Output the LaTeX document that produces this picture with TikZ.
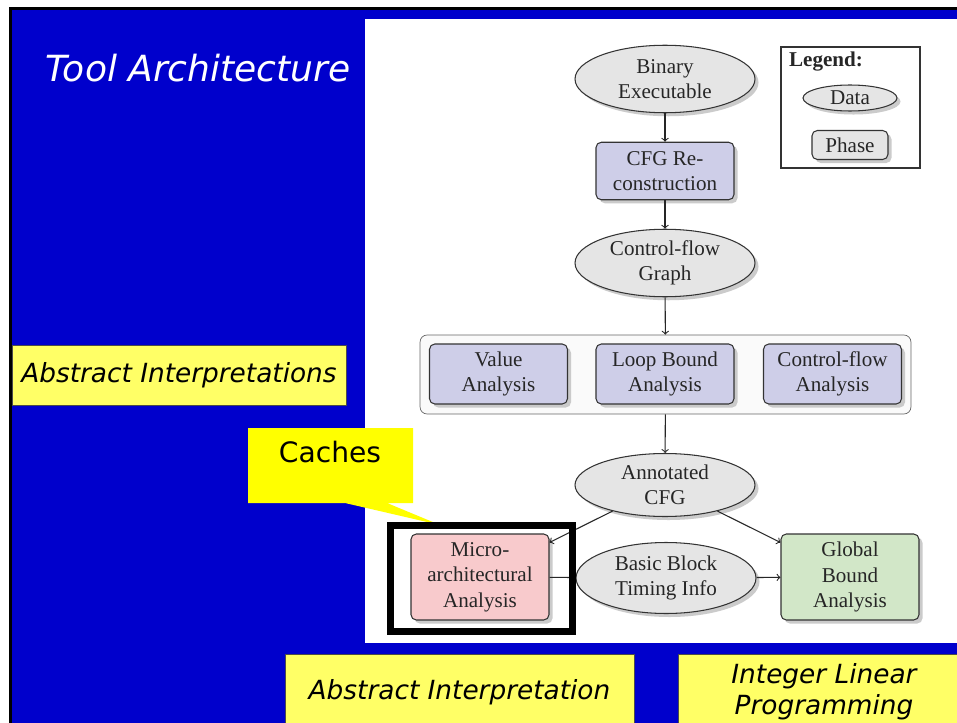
\documentclass[tikz,border=0pt]{standalone}
\usepackage{fontspec}
\setmainfont{Liberation Serif}
\newfontfamily\handfont{DejaVu Sans}
\usetikzlibrary{shapes,shadows}
\definecolor{slideblue}{HTML}{0000CC}
\definecolor{phasecol}{HTML}{CECEE8}
\definecolor{microcol}{HTML}{F8CACC}
\definecolor{globcol}{HTML}{D2E7C8}
\definecolor{noteyellow}{HTML}{FFFF66}
\definecolor{callyellow}{HTML}{FFFF00}

\begin{document}
\begin{tikzpicture}[x=0.02cm,y=-0.02cm,
    shade/.style={drop shadow={shadow xshift=2pt,shadow yshift=-2pt,fill=black!25,opacity=.8}},
    dataell/.style={ellipse,draw=black!80,semithick,fill=black!10,inner sep=0pt,minimum width=3.6cm,minimum height=1.35cm,
      align=center,text=black!85,font=\fontsize{12}{14.5}\selectfont,shade},
    phasebox/.style={rectangle,rounded corners=3pt,draw=black!80,semithick,fill=phasecol,inner sep=0pt,minimum width=2.76cm,
      minimum height=1.15cm,align=center,text=black!85,font=\fontsize{12}{14.5}\selectfont,shade},
    flow/.style={->,semithick,black!85},
    notebox/.style={draw=black!70,fill=noteyellow,inner sep=0pt,align=center,font=\handfont\itshape\fontsize{15}{17.6}\selectfont}]
    \useasboundingbox (0,0) rectangle (957,723);
    \clip (0,0) rectangle (957,723);
    % slide background
    \fill[white] (0,0) rectangle (957,723);
    \fill[black] (9,7) rectangle (957,723);
    \fill[slideblue] (12,10) rectangle (957,723);
    \fill[white] (365,19) rectangle (957,643);
    \node[text=white,font=\handfont\itshape\fontsize{20.5}{22}\selectfont] (title) at (198,68) {Tool Architecture};
    % flow
    \node[dataell] (bin) at (665,79) {Binary\\Executable};
    \node[phasebox] (cfgr) at (665,171) {CFG Re-\\construction};
    \node[dataell] (cfg) at (665,263) {Control-flow\\Graph};
    \node[draw=black!60,fill=black!2,rounded corners=4pt,minimum width=9.82cm,minimum height=1.58cm] (grp) at (665.5,374.5) {};
    \node[phasebox,minimum height=1.2cm] (val) at (498.5,374) {Value\\Analysis};
    \node[phasebox,minimum height=1.2cm] (loop) at (665,374) {Loop Bound\\Analysis};
    \node[phasebox,minimum height=1.2cm] (cfa) at (832.5,374) {Control-flow\\Analysis};
    \node[dataell,minimum height=1.26cm] (acfg) at (665,485) {Annotated\\CFG};
    \node[phasebox,fill=microcol,minimum height=1.72cm] (micro) at (480,577) {Micro-\\architectural\\Analysis};
    \node[dataell,minimum height=1.42cm] (bbt) at (666,578) {Basic Block\\Timing Info};
    \node[phasebox,fill=globcol,minimum height=1.72cm] (glob) at (850,577) {Global\\Bound\\Analysis};
    \draw[flow] (bin)--(cfgr);
    \draw[flow] (cfgr)--(cfg);
    \draw[flow] (cfg)--(grp);
    \draw[flow] (grp)--(acfg);
    \draw[flow] (acfg)--(micro);
    \draw[flow] (acfg)--(glob);
    \draw[flow] (micro)--(bbt);
    \draw[flow] (bbt)--(glob);
    % legend
    \node[draw=black!80,semithick,minimum width=2.78cm,minimum height=2.42cm] (legend) at (850.5,107.5) {};
    \node[text=black!85,font=\bfseries\fontsize{12}{14.5}\selectfont] (legtitle) at (826,62) {Legend:};
    \node[dataell,minimum width=1.88cm,minimum height=0.52cm] (legdata) at (850,98) {Data};
    \node[phasebox,fill=black!10,minimum width=1.52cm,minimum height=0.58cm] (legphase) at (850,145) {Phase};
    % callout and highlight
    \fill[callyellow] (248,428)--(413,428)--(413,503)--(387,503)--(440,525)--(345,503)--(248,503)--cycle;
    \node[font=\handfont\fontsize{16}{18}\selectfont] (caches) at (330,452) {Caches};
    \draw[line width=0.14cm] (390.5,525.5) rectangle (572.5,631.5);
    % notes
    \node[notebox,minimum width=6.68cm,minimum height=1.2cm] (absints) at (179,375) {Abstract Interpretations};
    \node[notebox,minimum width=6.98cm,minimum height=1.52cm] (absint) at (459.5,692) {Abstract Interpretation};
    \node[notebox,minimum width=5.84cm,minimum height=1.52cm] (ilp) at (824,692) {Integer Linear\\Programming};
\end{tikzpicture}
\end{document}
